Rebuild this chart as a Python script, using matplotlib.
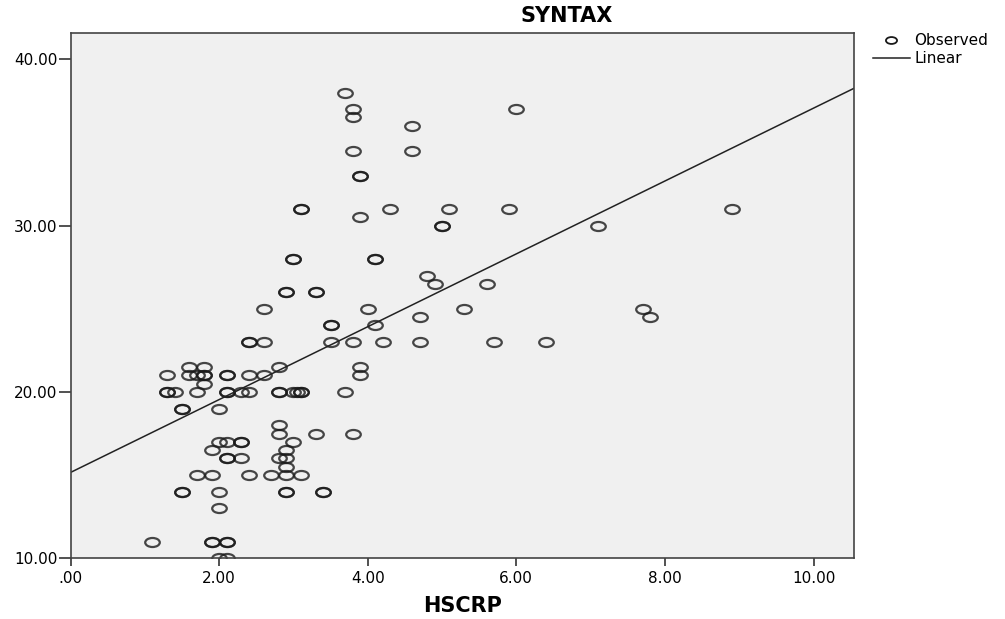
import numpy as np
import matplotlib
matplotlib.use("Agg")
import matplotlib.pyplot as plt
from matplotlib.path import Path
from matplotlib.transforms import Affine2D
from matplotlib.lines import Line2D

# valori (HSCRP, SYNTAX)
hscrp = [3.7, 3.8, 6.0, 3.8, 4.6, 3.8, 4.6, 3.9, 3.9,
         3.1, 3.1, 4.3, 5.1, 5.9, 8.9, 3.9, 5.0, 5.0, 7.1,
         3.0, 3.0, 4.1, 4.1, 4.8, 4.9, 5.6, 2.9, 2.9, 3.3, 3.3,
         2.6, 4.0, 5.3, 7.7, 4.7, 7.8, 3.5, 3.5, 4.1,
         2.4, 2.4, 2.6, 3.5, 3.8, 4.2, 4.7, 5.7, 6.4,
         1.6, 1.8, 2.8, 3.9,
         1.3, 1.6, 1.7, 1.8, 1.8, 2.1, 2.1, 2.4, 2.6, 3.9,
         1.8,
         1.3, 1.3, 1.4, 1.7, 2.1, 2.1, 2.3, 2.4, 2.8, 2.8, 3.0, 3.05, 3.1, 3.1, 3.7,
         1.5, 1.5, 2.0,
         2.8,
         2.8, 3.3, 3.8,
         2.0, 2.1, 2.3, 2.3, 3.0,
         1.9, 2.9,
         2.1, 2.1, 2.3, 2.8, 2.9,
         2.9,
         1.7, 1.9, 2.4, 2.7, 2.9, 3.1,
         1.5, 1.5, 2.0, 2.9, 2.9, 3.4, 3.4,
         2.0,
         1.1, 1.9, 1.9, 2.1, 2.1,
         2.0, 2.1]
syntax = [38, 37, 37, 36.5, 36, 34.5, 34.5, 33, 33,
          31, 31, 31, 31, 31, 31, 30.5, 30, 30, 30,
          28, 28, 28, 28, 27, 26.5, 26.5, 26, 26, 26, 26,
          25, 25, 25, 25, 24.5, 24.5, 24, 24, 24,
          23, 23, 23, 23, 23, 23, 23, 23, 23,
          21.5, 21.5, 21.5, 21.5,
          21, 21, 21, 21, 21, 21, 21, 21, 21, 21,
          20.5,
          20, 20, 20, 20, 20, 20, 20, 20, 20, 20, 20, 20, 20, 20, 20,
          19, 19, 19,
          18,
          17.5, 17.5, 17.5,
          17, 17, 17, 17, 17,
          16.5, 16.5,
          16, 16, 16, 16, 16,
          15.5,
          15, 15, 15, 15, 15, 15,
          14, 14, 14, 14, 14, 14, 14,
          13,
          11, 11, 11, 11, 11,
          10, 10]

# retta di regressione
intercetta = 15.16
pendenza = 2.19

x_ticks = [0, 2, 4, 6, 8, 10]
x_labels = ['.00', '2.00', '4.00', '6.00', '8.00', '10.00']
y_ticks = [10, 20, 30, 40]
y_labels = ['10.00', '20.00', '30.00', '40.00']

plt.rcParams['font.family'] = 'DejaVu Sans'

# cerchio schiacciato come nel grafico originale
ellisse = Affine2D().scale(1.0, 0.62).transform_path(Path.unit_circle())

fig = plt.figure(figsize=(10.05, 6.19), dpi=100)
ax = fig.add_axes([70.5/1005, 1 - 558.3/619, (854 - 70.5)/1005, (558.3 - 33.3)/619])
ax.set_facecolor('#f0f0f0')

ax.plot(hscrp, syntax, linestyle='none', marker=ellisse, markersize=10.5,
        markerfacecolor='none', markeredgecolor='#1a1a1a', markeredgewidth=1.6,
        alpha=0.8, clip_on=True)
ax.axline((0, intercetta), slope=pendenza, color='#222222', lw=1.1)

ax.set_xlim(0, 10.545)
ax.set_ylim(10, 41.56)
ax.set_xticks(x_ticks)
ax.set_xticklabels(x_labels)
ax.set_yticks(y_ticks)
ax.set_yticklabels(y_labels)
ax.tick_params(axis='x', direction='out', length=6, width=1.2, color='#333333',
               labelsize=11, pad=3)
ax.tick_params(axis='y', direction='out', length=9, width=1.2, color='#333333',
               labelsize=11, pad=0.5)
for s in ax.spines.values():
    s.set_color('#444444')
    s.set_linewidth(1.2)

ax.set_xlabel('HSCRP', fontsize=15, fontweight='bold', labelpad=7)
fig.text(567/1005, 1 - 15.7/619, 'SYNTAX', fontsize=15, fontweight='bold',
         ha='center', va='center')

handles = [Line2D([], [], linestyle='none', marker=ellisse, markersize=8,
                  markerfacecolor='none', markeredgecolor='#1a1a1a', markeredgewidth=1.3),
           Line2D([], [], color='#222222', lw=1.1)]
ax.legend(handles, ['Observed', 'Linear'], loc='upper left',
          bbox_to_anchor=(873/1005, 1 - 33/619), bbox_transform=fig.transFigure,
          frameon=False, fontsize=11, handlelength=2.4, handletextpad=0.3,
          labelspacing=0.2, borderpad=0, borderaxespad=0)

fig.savefig('out.png', dpi=100)
